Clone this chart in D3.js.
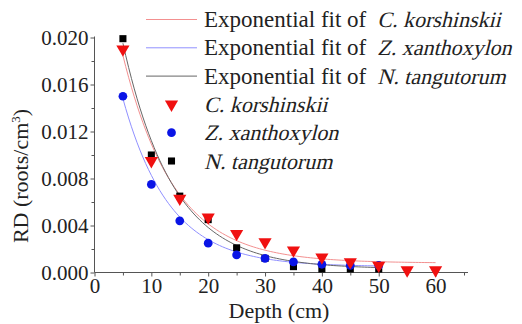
<!DOCTYPE html>
<html><head><meta charset="utf-8">
<script src="https://cdn.jsdelivr.net/npm/d3@7/dist/d3.min.js"></script>
<style>body{margin:0;background:#fff;}svg{display:block;}svg text, svg tspan{font-family:"Liberation Serif";fill:#222;}</style>
</head><body><svg id="c" width="522" height="324"></svg>
<script>
const depthCK = [5,10,15,20,25,30,35,40,45,50,55,60];
const rdCK    = [0.0190,0.0095,0.0063,0.0047,0.0033,0.0026,0.0019,0.0013,0.0009,0.0006,0.0002,0.0002];
const depthZX = [5,10,15,20,25,30,35,40,45,50];
const rdZX    = [0.0150,0.0075,0.0044,0.0025,0.0015,0.0012,0.0009,0.0007,0.0006,0.0006];
const depthNT = [5,10,15,20,25,30,35,40,45,50];
const rdNT    = [0.0199,0.0100,0.0065,0.0045,0.0021,0.0012,0.0005,0.0003,0.0003,0.0003];
// exponential fit parameters y = y0 + A*exp(-x/t)
const fitCK = {y0:0.0008, A:0.0308, t:9.0, from:5, to:60};
const fitZX = {y0:0.0005, A:0.0263, t:8.2, from:5, to:50};
const fitNT = {y0:0.0003, A:0.0338, t:8.85, from:5, to:50};
const xTicks = [0,10,20,30,40,50,60];
const yTicks = [0.000,0.004,0.008,0.012,0.016,0.020];

const svg = d3.select("#c");
const x = d3.scaleLinear().domain([0,65]).range([94.5,464]);
const y = d3.scaleLinear().domain([0,0.020]).range([272.5,37.5]);
const FONT = "'Liberation Serif'";

// axes
const xAxis = d3.axisBottom(x).tickValues(xTicks).tickSize(4).tickPadding(2).tickFormat(d3.format("d"));
const gx = svg.append("g").attr("transform","translate(0,272.5)").call(xAxis);
gx.select(".domain").attr("d", `M${x(0)},0H${x(65)+4}`);
svg.append("g").attr("transform","translate(0,272.5)").call(d3.axisBottom(x).tickValues([5,15,25,35,45,55,65]).tickSize(3).tickFormat(""))
  .call(g=>g.select(".domain").remove());
const yAxis = d3.axisLeft(y).tickValues(yTicks).tickSize(4).tickPadding(2).tickFormat(d3.format(".3f"));
const gy = svg.append("g").attr("transform","translate(94.5,0)").call(yAxis);
gy.select(".domain").attr("d", `M0,${y(0)}V${y(0.020)-1}`);
svg.append("g").attr("transform","translate(94.5,0)").call(d3.axisLeft(y).tickValues([0.002,0.006,0.010,0.014,0.018]).tickSize(3).tickFormat(""))
  .call(g=>g.select(".domain").remove());
svg.selectAll(".domain, .tick line").attr("stroke","#555");
svg.selectAll("g").attr("font-family",FONT);
svg.selectAll(".tick text").attr("font-size",21).style("font-size","21px").style("font-family",FONT).attr("fill","#222");

// titles
svg.append("text").attr("x",279).attr("y",318).attr("text-anchor","middle").style("font-size","22px").style("font-family",FONT).text("Depth (cm)");
const yt = svg.append("text").attr("transform","translate(28,176) rotate(-90)").attr("text-anchor","middle").style("font-size","22px").style("font-family",FONT);
yt.append("tspan").text("RD (roots/cm");
yt.append("tspan").attr("dy","-8").style("font-size","13px").text("3");
yt.append("tspan").attr("dy","8").text(")");

// fit curves
const line = d3.line().x(d=>x(d[0])).y(d=>y(d[1]));
function fitPts(f){ return d3.range(f.from, f.to+0.001, 0.5).map(v=>[v, f.y0 + f.A*Math.exp(-v/f.t)]); }
const fitColors = ["#f39090","#9090ff","#666"];
[fitCK,fitZX,fitNT].forEach((f,i)=>svg.append("path").attr("d",line(fitPts(f))).attr("fill","none").attr("stroke",fitColors[i]).attr("stroke-width",1));

// markers
const tri = d3.symbol().type(d3.symbolTriangle).size(75);
const circ = d3.symbol().type(d3.symbolCircle).size(60);
const sq = d3.symbol().type(d3.symbolSquare).size(50);
svg.append("g").selectAll("path").data(d3.zip(depthNT,rdNT)).join("path")
  .attr("d",sq()).attr("transform",d=>`translate(${x(d[0])},${y(d[1])})`).attr("fill","#000");
svg.append("g").selectAll("path").data(d3.zip(depthZX,rdZX)).join("path")
  .attr("d",circ()).attr("transform",d=>`translate(${x(d[0])},${y(d[1])})`).attr("fill","#0a14e6");
svg.append("g").selectAll("path").data(d3.zip(depthCK,rdCK)).join("path")
  .attr("d",tri()).attr("transform",d=>`translate(${x(d[0])},${y(d[1])}) rotate(180)`).attr("fill","#f01010");

// legend (italic synthesized by skew of the serif face)
const legNames = ["C. korshinskii","Z. xanthoxylon","N. tangutorum"];
const rowY = i => 19.5 + i*28.3;
const leg = svg.append("g");
function italicText(x0, yb, str){
  leg.append("text").attr("transform",`translate(${x0},${yb}) skewX(-14)`)
    .style("font-size","22px").style("font-family",FONT).text(str);
}
legNames.forEach((n,i)=>{
  leg.append("line").attr("x1",146).attr("x2",197).attr("y1",rowY(i)).attr("y2",rowY(i)).attr("stroke",fitColors[i]).attr("stroke-width",1);
  const t = leg.append("text").attr("x",204).attr("y",rowY(i)+7.5).style("font-size","23px").style("font-family",FONT).text("Exponential fit of");
  const w = t.node().getComputedTextLength();
  italicText(204 + w + 11, rowY(i)+7.5, n);
});
const markerFns = [[tri,"#f01010",true],[circ,"#0a14e6",false],[sq,"#000",false]];
legNames.forEach((n,i)=>{
  const [fn,c,rot] = markerFns[i];
  leg.append("path").attr("d",fn()).attr("fill",c).attr("transform",`translate(171.5,${rowY(i+3)})${rot?" rotate(180)":""}`);
  italicText(204, rowY(i+3)+7.5, n);
});
</script></body></html>
